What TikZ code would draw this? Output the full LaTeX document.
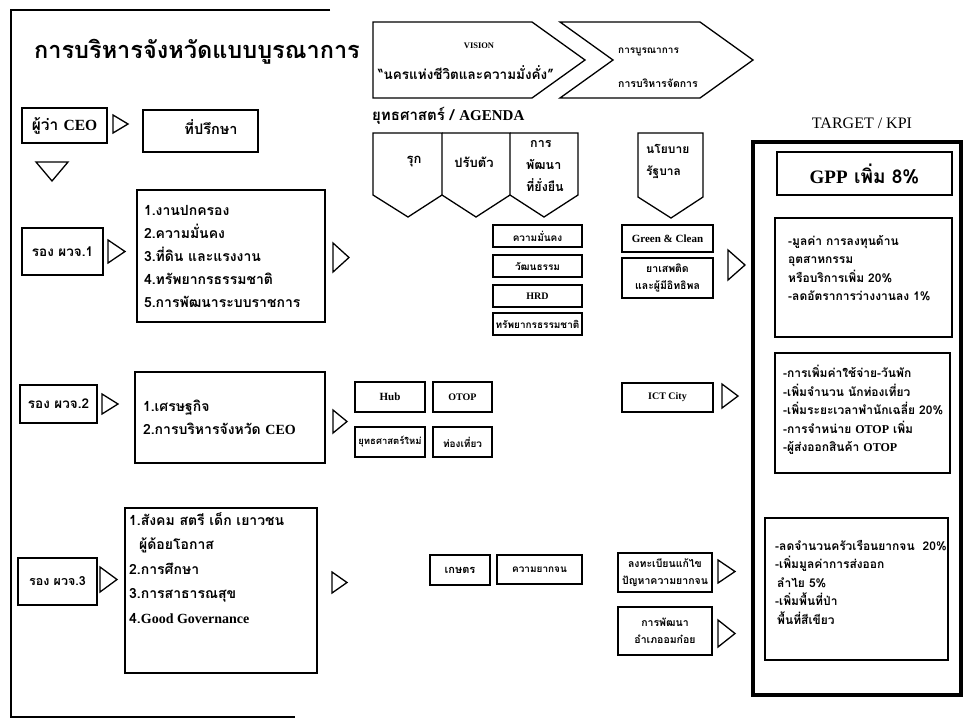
\documentclass[tikz,border=0pt]{standalone}
\usepackage{fontspec}
\setmainfont{Loma}[Script=Thai]
\newfontfamily\latinfont{Liberation Serif}
\newcommand\en[1]{{\latinfont #1}}
\newcommand\fs[2]{\fontsize{#1}{#2}\selectfont}

\begin{document}
\begin{tikzpicture}[x=1pt,y=-1pt,
  rect/.style={draw, line width=1.3pt, inner sep=0pt, align=center, font=\bfseries\fs{10}{15}},
  listbox/.style={rect, align=left, font=\bfseries\fs{14}{23}},
  kpibox/.style={draw, line width=1.3pt, inner sep=0pt},
  kpitext/.style={anchor=north west, inner sep=0pt, align=left, font=\bfseries\fs{12}{18.5}},
  tri/.style={draw, line width=1.3pt, line join=miter, fill=white},
  outline/.style={draw, line width=1.3pt, line join=miter},
  txt/.style={inner sep=0pt, font=\bfseries\fs{11}{14}}
]
\useasboundingbox (0,0) rectangle (966,721);

% outer frame of the left block
\draw[line width=2.4pt] (330,10) -- (11,10) -- (11,717) -- (295,717);

% heading
\node[inner sep=0pt, font=\bfseries\fs{23.5}{28}] (title) at (197,52) {การบริหารจังหวัดแบบบูรณาการ};

% vision chevrons
\draw[outline] (373,22) -- (532,22) -- (585,60) -- (532,98) -- (373,98) -- cycle;
\draw[outline] (560,22) -- (700,22) -- (753,60) -- (700,98) -- (560,98) -- (613,60) -- cycle;
\node[txt, font=\bfseries\fs{8.5}{10}] (vis1) at (479,46) {\en{VISION}};
\node[txt, font=\bfseries\fs{13.5}{16}] (vis2) at (466,73) {“นครแห่งชีวิตและความมั่งคั่ง”};
\node[txt, anchor=west, font=\bfseries\fs{10}{12}] (int1) at (618,52) {การบูรณาการ};
\node[txt, anchor=west, font=\bfseries\fs{10.5}{12}] (int2) at (618,83) {การบริหารจัดการ};

% agenda heading
\node[txt, anchor=west, font=\bfseries\fs{15}{17}] (agenda) at (372,116) {ยุทธศาสตร์ / \en{AGENDA}};

% agenda pentagons
\draw[outline] (373,133) -- (442,133) -- (442,195) -- (408,217) -- (373,195) -- cycle;
\draw[outline] (442,133) -- (510,133) -- (510,195) -- (476,217) -- (442,195);
\draw[outline] (510,133) -- (578,133) -- (578,195) -- (544,217) -- (510,195);
\draw[outline] (638,133) -- (703,133) -- (703,197) -- (671,218) -- (638,197) -- cycle;
\node[txt, font=\bfseries\fs{13}{15}] (rook) at (414,162) {รุก};
\node[txt, font=\bfseries\fs{13}{15}] (adapt) at (474,162) {ปรับตัว};
\node[txt, anchor=north west, align=left, font=\bfseries\fs{12.5}{22}] (sust) at (526,140) {\hspace*{4pt}การ\\พัฒนา\\ที่ยั่งยืน};
\node[txt, anchor=north west, align=left, font=\bfseries\fs{12}{22}] (gov) at (646,144) {นโยบาย\\รัฐบาล};

% agenda items
\node[rect, minimum width=89, minimum height=22] (sec) at (537.5,236) {ความมั่นคง};
\node[rect, minimum width=89, minimum height=22] (cul) at (537.5,266) {วัฒนธรรม};
\node[rect, minimum width=89, minimum height=22] (hrd) at (537.5,296) {\en{HRD}};
\node[rect, minimum width=89, minimum height=22] (nat) at (537.5,324) {ทรัพยากรธรรมชาติ};
\node[rect, minimum width=91, minimum height=27, font=\bfseries\fs{11}{14}] (green) at (667.5,238.5) {\en{Green \& Clean}};
\node[rect, minimum width=91, minimum height=40, font=\bfseries\fs{10.5}{17}] (drug) at (667.5,278) {ยาเสพติด\\และผู้มีอิทธิพล};

% governor and advisers
\node[rect, minimum width=85, minimum height=35, font=\bfseries\fs{15.5}{17}] (ceo) at (64.5,125.5) {ผู้ว่า \en{CEO}};
\node[rect, minimum width=115, minimum height=42] (adv) at (200.5,131) {};
\node[txt, font=\bfseries\fs{14.5}{17}] (advt) at (211,127) {ที่ปรึกษา};

% deputies
\node[rect, minimum width=81, minimum height=47, font=\bfseries\fs{13.5}{15}] (dep1) at (62.5,251.5) {รอง ผวจ.1};
\node[rect, minimum width=77, minimum height=38, font=\bfseries\fs{13.5}{15}] (dep2) at (58.5,404) {รอง ผวจ.2};
\node[rect, minimum width=79, minimum height=47, font=\bfseries\fs{12.5}{15}] (dep3) at (57.5,581.5) {รอง ผวจ.3};

% portfolios
\node[listbox, minimum width=188, minimum height=132, text width=174] (list1) at (231,256)
  {1.งานปกครอง\\2.ความมั่นคง\\3.ที่ดิน และแรงงาน\\4.ทรัพยากรธรรมชาติ\\5.การพัฒนาระบบราชการ};
\node[listbox, minimum width=190, minimum height=91, text width=174] (list2) at (230,417.5)
  {1.เศรษฐกิจ\\2.การบริหารจังหวัด \en{CEO}};
\node[rect, minimum width=192, minimum height=165] (list3) at (221,590.5) {};
\node[anchor=north west, inner sep=0pt, align=left, font=\bfseries\fs{14}{24.5}] (list3txt) at (129,512)
  {1.สังคม สตรี เด็ก เยาวชน\\\hspace*{10pt}ผู้ด้อยโอกาส\\2.การศึกษา\\3.การสาธารณสุข\\4.\en{Good Governance}};

% economy items
\node[rect, minimum width=70, minimum height=30, font=\bfseries\fs{11}{14}] (hub) at (390,397) {\en{Hub}};
\node[rect, minimum width=59, minimum height=30] (otop) at (462.5,397) {\en{OTOP}};
\node[rect, minimum width=70, minimum height=30, font=\bfseries\fs{9.5}{12}] (newst) at (390,442) {ยุทธศาสตร์ใหม่};
\node[rect, minimum width=59, minimum height=30] (tour) at (462.5,442) {ท่องเที่ยว};
\node[rect, minimum width=91, minimum height=29] (ict) at (667.5,397.5) {\en{ICT City}};

% society items
\node[rect, minimum width=60, minimum height=30, font=\bfseries\fs{11}{14}] (agri) at (460,570) {เกษตร};
\node[rect, minimum width=85, minimum height=29] (pov) at (539.5,569.5) {ความยากจน};
\node[rect, minimum width=94, minimum height=39, font=\bfseries\fs{10.5}{17}] (reg) at (665,572.5) {ลงทะเบียนแก้ไข\\ปัญหาความยากจน};
\node[rect, minimum width=94, minimum height=48, font=\bfseries\fs{10.5}{17}] (omk) at (665,631) {การพัฒนา\\อำเภออมก๋อย};

% pointer triangles
\draw[tri] (113,115) -- (128,124) -- (113,133) -- cycle;
\draw[tri] (36,162) -- (68,162) -- (52,181) -- cycle;
\draw[tri] (108,240) -- (125,251.5) -- (108,263) -- cycle;
\draw[tri] (333,243) -- (349,257.5) -- (333,272) -- cycle;
\draw[tri] (728,250) -- (745,265) -- (728,280) -- cycle;
\draw[tri] (102,394) -- (118,404) -- (102,414) -- cycle;
\draw[tri] (333,410) -- (347,421.5) -- (333,433) -- cycle;
\draw[tri] (722,384) -- (738,396) -- (722,408) -- cycle;
\draw[tri] (100,567) -- (117,579.5) -- (100,592) -- cycle;
\draw[tri] (332,572) -- (347,582.5) -- (332,593) -- cycle;
\draw[tri] (718,560) -- (735,571.5) -- (718,583) -- cycle;
\draw[tri] (718,620) -- (735,633.5) -- (718,647) -- cycle;

% targets and indicators
\node[inner sep=0pt, font=\latinfont\fs{16}{18}] (tkpi) at (862,123) {TARGET / KPI};
\draw[line width=4pt] (753,142) rectangle (961,695);
\node[rect, minimum width=175, minimum height=43, font=\bfseries\fs{19}{21}] (gpp) at (864.5,173.5) {\en{GPP} เพิ่ม 8\%};
\node[kpibox, minimum width=177, minimum height=119] (k1) at (863.5,277.5) {};
\node[kpitext] (k1t) at (788,235)
  {-มูลค่า การลงทุนด้าน\\อุตสาหกรรม\\หรือบริการเพิ่ม 20\%\\-ลดอัตราการว่างงานลง 1\%};
\node[kpibox, minimum width=175, minimum height=120] (k2) at (862.5,413) {};
\node[kpitext] (k2t) at (783,365)
  {-การเพิ่มค่าใช้จ่าย-วันพัก\\-เพิ่มจำนวน นักท่องเที่ยว\\-เพิ่มระยะเวลาพำนักเฉลี่ย 20\%\\-การจำหน่าย \en{OTOP} เพิ่ม\\-ผู้ส่งออกสินค้า \en{OTOP}};
\node[kpibox, minimum width=183, minimum height=142] (k3) at (856.5,589) {};
\node[kpitext] (k3t) at (775,540)
  {-ลดจำนวนครัวเรือนยากจน\hspace{8pt}20\%\\-เพิ่มมูลค่าการส่งออก\\\hspace*{2pt}ลำไย 5\%\\-เพิ่มพื้นที่ป่า\\\hspace*{2pt}พื้นที่สีเขียว};
\end{tikzpicture}
\end{document}
